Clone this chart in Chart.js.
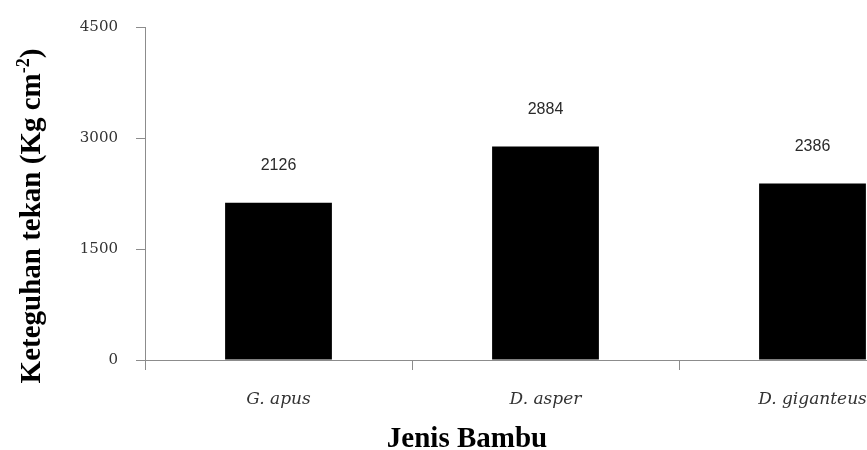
<!DOCTYPE html>
<html>
<head>
<meta charset="utf-8">
<script src="https://cdn.jsdelivr.net/npm/chart.js@4.4.1/dist/chart.umd.min.js"></script>
<style>
  html, body { margin: 0; padding: 0; background: #fff; overflow: hidden; }
  #wrap { position: absolute; left: 0; top: 0; width: 960px; height: 450px; }
</style>
</head>
<body>
<div id="wrap"><canvas id="c" width="960" height="450"></canvas></div>
<script>
// ---- data ----
const categories = ["G. apus", "D. asper", "D. giganteus"];
const values = [2126, 2884, 2386];
const yTickValues = [0, 1500, 3000, 4500];
const xTitle = "Jenis Bambu";
const yTitleMain = "Keteguhan tekan (Kg cm";
const yTitleSup = "-2";
const yTitleEnd = ")";

const axisColor = "#8c8c8c";

const labelPlugin = {
  id: "valueLabels",
  afterDatasetsDraw(chart) {
    const ctx = chart.ctx;
    const meta = chart.getDatasetMeta(0);
    ctx.save();
    ctx.font = "16px 'Liberation Sans', Arial, sans-serif";
    ctx.fillStyle = "#2a2a2a";
    ctx.textAlign = "center";
    ctx.textBaseline = "middle";
    meta.data.forEach((bar, i) => {
      ctx.fillText(String(values[i]), bar.x, bar.y - 37);
    });
    ctx.restore();
  }
};

const titlePlugin = {
  id: "axisTitles",
  afterDraw(chart) {
    const ctx = chart.ctx;
    ctx.save();
    ctx.fillStyle = "#000";
    // x title
    ctx.font = "bold 29px 'Liberation Serif', 'Times New Roman', serif";
    ctx.textAlign = "center";
    ctx.textBaseline = "alphabetic";
    ctx.fillText(xTitle, 467, 447);
    // y title (rotated)
    const mainFont = "bold 29px 'Liberation Serif', 'Times New Roman', serif";
    const supFont = "bold 18px 'Liberation Serif', 'Times New Roman', serif";
    ctx.font = mainFont;
    const w1 = ctx.measureText(yTitleMain).width;
    const w3 = ctx.measureText(yTitleEnd).width;
    ctx.font = supFont;
    const w2 = ctx.measureText(yTitleSup).width;
    const total = w1 + w2 + w3;
    ctx.translate(40, 216);
    ctx.rotate(-Math.PI / 2);
    ctx.textAlign = "left";
    let x = -total / 2;
    ctx.font = mainFont;
    ctx.fillText(yTitleMain, x, 0);
    x += w1;
    ctx.font = supFont;
    ctx.fillText(yTitleSup, x, -11);
    x += w2;
    ctx.font = mainFont;
    ctx.fillText(yTitleEnd, x, 0);
    ctx.restore();
  }
};

new Chart(document.getElementById("c"), {
  type: "bar",
  data: {
    labels: categories,
    datasets: [{
      data: values,
      backgroundColor: "#000",
      borderWidth: 0,
      barPercentage: 0.4,
      categoryPercentage: 1.0
    }]
  },
  options: {
    responsive: false,
    animation: false,
    devicePixelRatio: 1,
    layout: { padding: { left: 0, right: 14, top: 26, bottom: 0 } },
    plugins: {
      legend: { display: false },
      tooltip: { enabled: false },
      title: { display: false }
    },
    scales: {
      x: {
        type: "category",
        offset: true,
        grid: {
          offset: true,
          drawOnChartArea: false,
          drawTicks: true,
          tickLength: 10,
          color: axisColor,
          lineWidth: 1
        },
        border: { display: true, color: axisColor, width: 1 },
        ticks: {
          color: "#333",
          padding: 19,
          font: { family: "'DejaVu Serif', serif", size: 17, style: "italic" },
          maxRotation: 0,
          autoSkip: false
        },
        afterFit(scale) { scale.height = 90; }
      },
      y: {
        min: 0,
        max: 4500,
        afterBuildTicks(scale) {
          scale.ticks = yTickValues.map(v => ({ value: v }));
        },
        grid: {
          drawOnChartArea: false,
          drawTicks: true,
          tickLength: 9,
          color: axisColor,
          lineWidth: 1
        },
        border: { display: true, color: axisColor, width: 1 },
        ticks: {
          color: "#333",
          padding: 18,
          font: { family: "'DejaVu Serif', serif", size: 15 },
          callback: (v) => String(v)
        },
        afterFit(scale) { scale.width = 145; }
      }
    }
  },
  plugins: [labelPlugin, titlePlugin]
});
</script>
</body>
</html>
